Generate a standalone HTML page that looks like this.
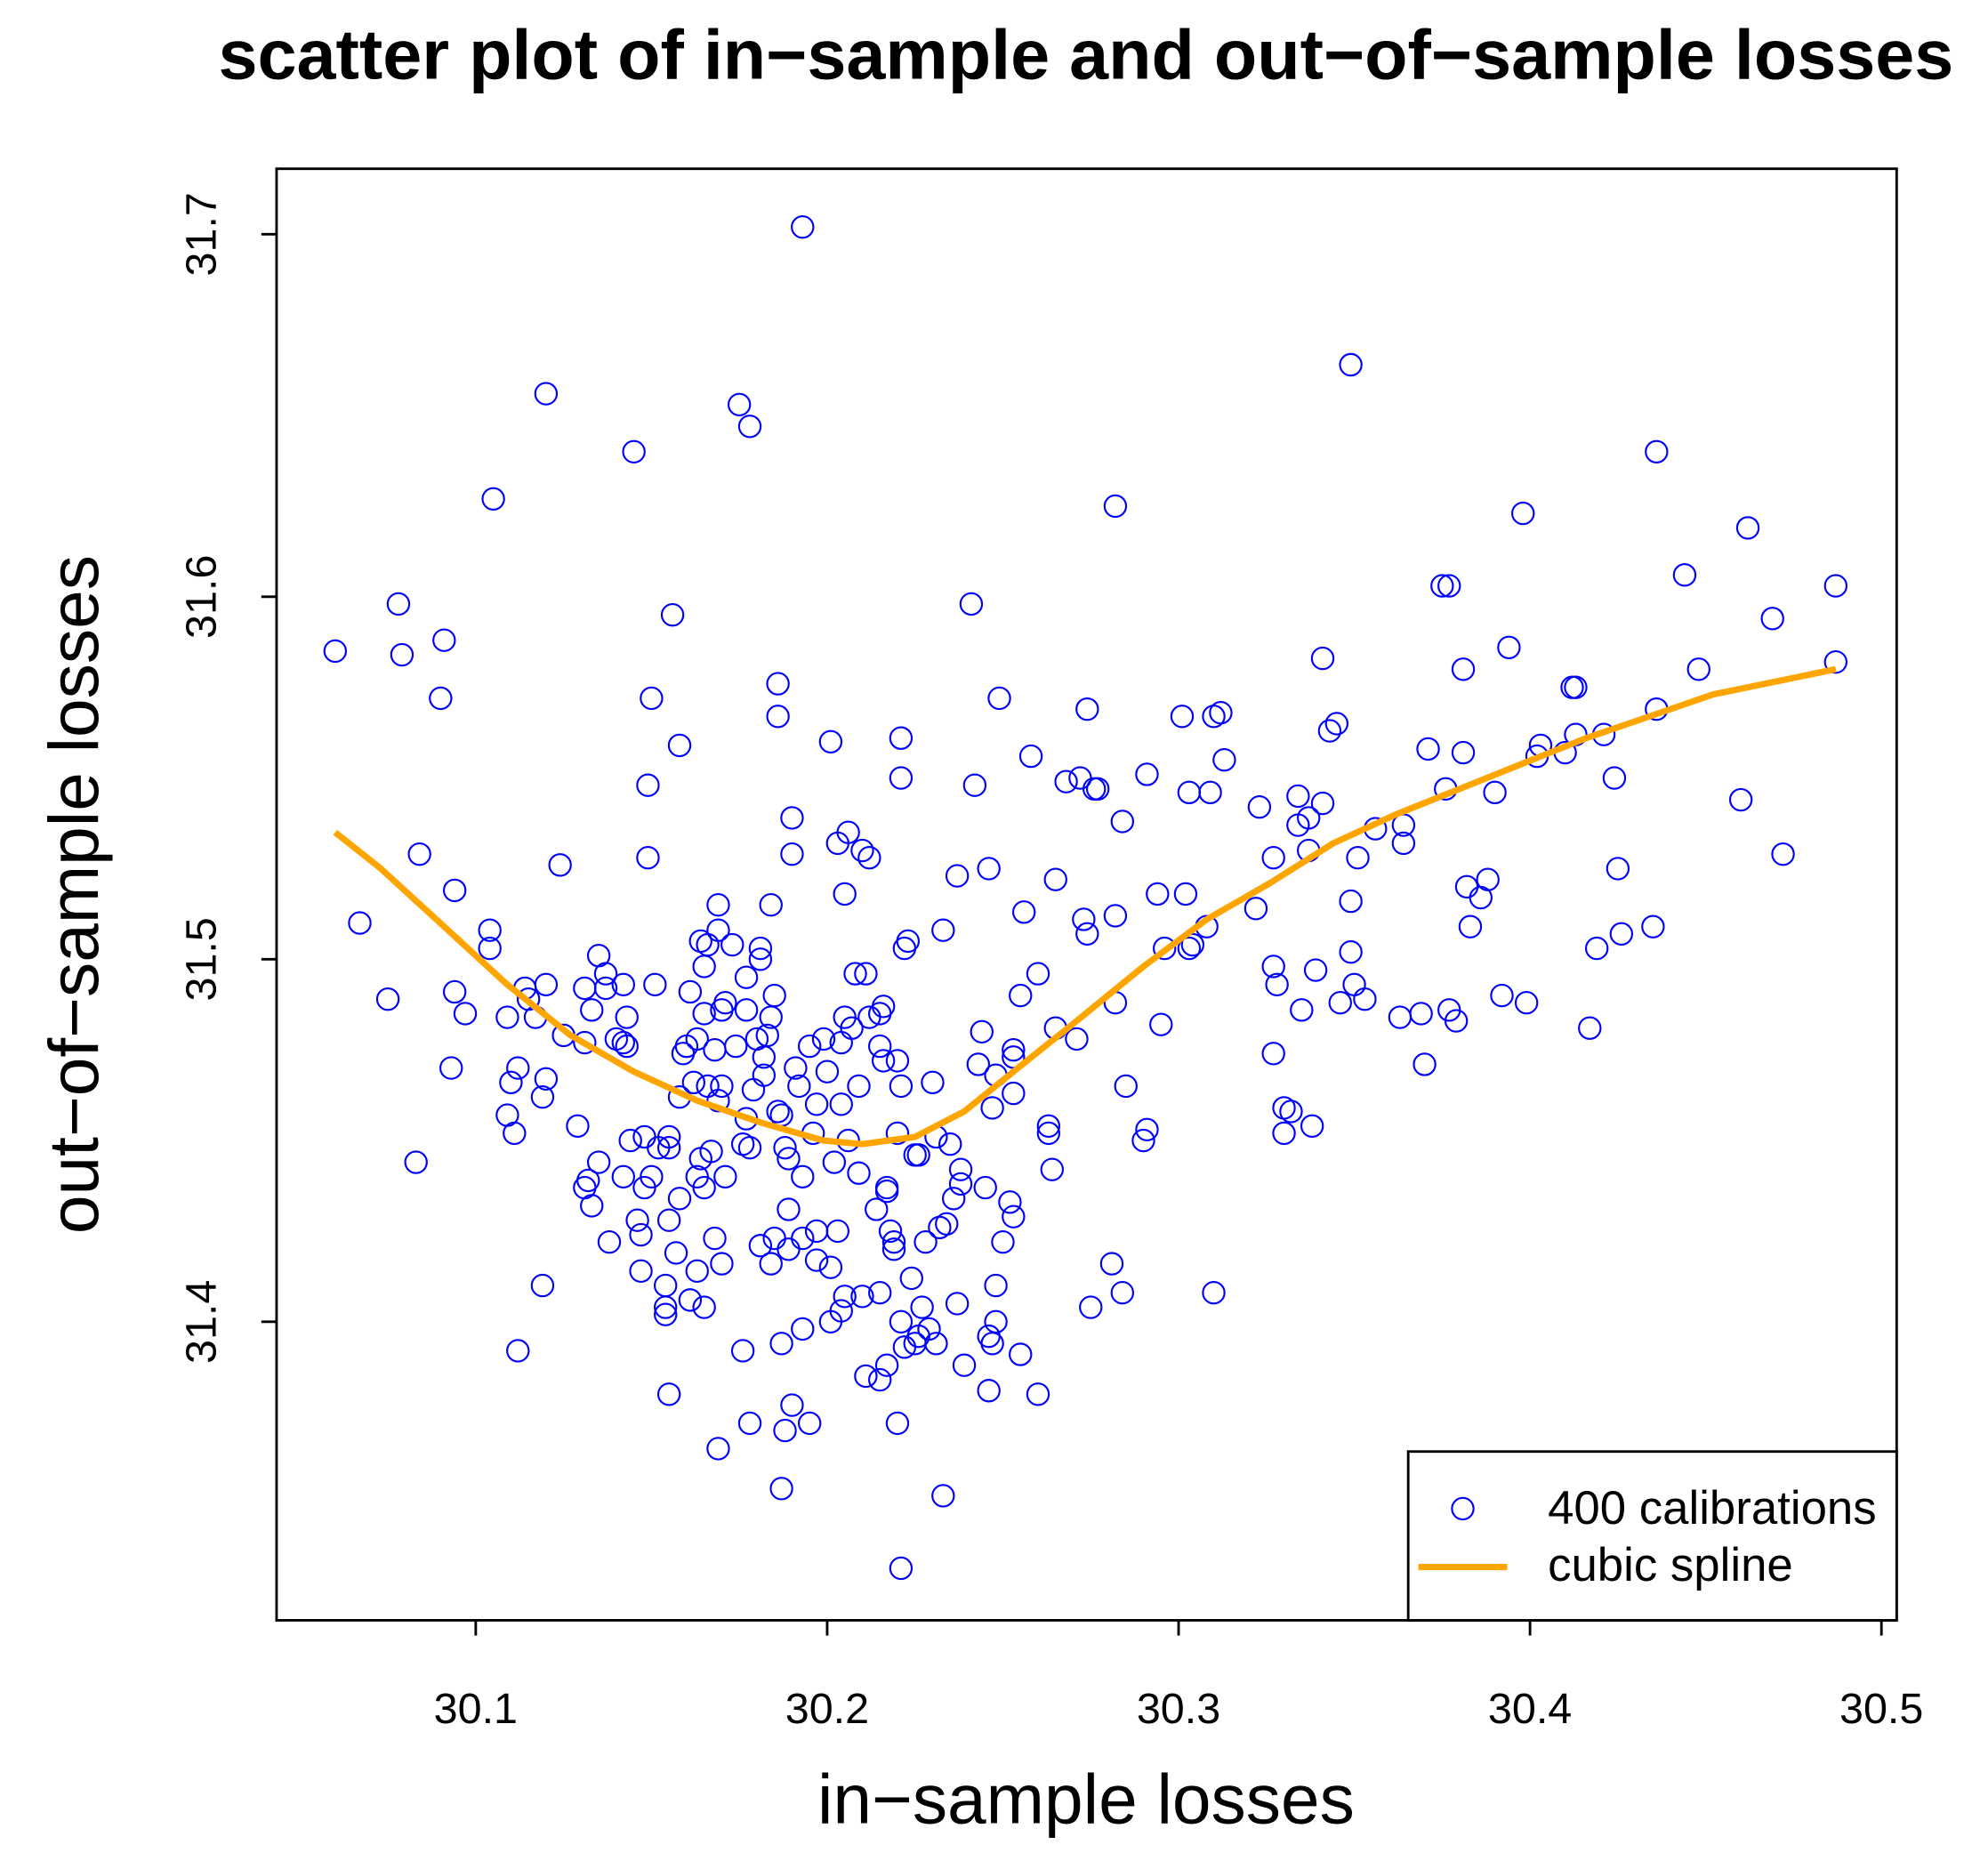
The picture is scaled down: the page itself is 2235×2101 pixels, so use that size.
<!DOCTYPE html>
<html><head><meta charset="utf-8"><style>
html,body{margin:0;padding:0;background:#fff}
svg{display:block}
text{font-family:"Liberation Sans",Arial,sans-serif;fill:#000}
</style></head><body>
<svg id="chart" width="2235" height="2101" viewBox="0 0 1567 1473" preserveAspectRatio="none" xmlns="http://www.w3.org/2000/svg">
<rect width="1567" height="1473" fill="#fff"/>
<text x="856" y="62" text-anchor="middle" font-size="55.5" font-weight="bold">scatter plot of in−sample and out−of−sample losses</text>
<text x="856" y="1437" text-anchor="middle" font-size="55">in−sample losses</text>
<text transform="translate(77,705) rotate(-90)" text-anchor="middle" font-size="55">out−of−sample losses</text>
<g id="axes"></g>
<g id="points"></g>
<g id="spline"></g>
<rect x="218" y="133" width="1277" height="1144" fill="none" stroke="#000" stroke-width="2"/>
<g>
<rect x="1110" y="1144" width="385" height="133" fill="#fff" stroke="#000" stroke-width="2"/>
<circle cx="1153" cy="1189" r="8.5" fill="none" stroke="#0000ff" stroke-width="1.5"/>
<text x="1220" y="1201" font-size="37">400 calibrations</text>
<line x1="1118" y1="1235" x2="1188" y2="1235" stroke="#FFA500" stroke-width="5"/>
<text x="1220" y="1246" font-size="37">cubic spline</text>
</g>
</svg>
<script>
const xTicks=[30.1,30.2,30.3,30.4,30.5];
const yTicks=[31.4,31.5,31.6,31.7];
const xTickLabels=["30.1","30.2","30.3","30.4","30.5"];
const yTickLabels=["31.4","31.5","31.6","31.7"];
const inSample=[30.060,30.067,30.075,30.078,30.079,30.091,30.090,30.084,30.083,30.094,30.094,30.097,30.093,30.105,30.104,30.104,30.109,30.110,30.112,30.109,30.111,30.112,30.114,30.115,30.117,30.120,30.120,30.120,30.119,30.119,30.124,30.125,30.129,30.131,30.131,30.131,30.132,30.133,30.135,30.133,30.135,30.137,30.137,30.138,30.140,30.142,30.142,30.143,30.142,30.143,30.145,30.144,30.146,30.147,30.147,30.148,30.148,30.149,30.149,30.150,30.151,30.152,30.150,30.154,30.154,30.154,30.155,30.155,30.155,30.155,30.156,30.157,30.158,30.158,30.159,30.158,30.161,30.161,30.162,30.160,30.163,30.163,30.163,30.164,30.165,30.164,30.165,30.165,30.165,30.166,30.166,30.167,30.168,30.168,30.169,30.169,30.169,30.169,30.170,30.170,30.171,30.170,30.171,30.173,30.174,30.175,30.176,30.177,30.177,30.178,30.176,30.178,30.178,30.177,30.179,30.180,30.181,30.181,30.181,30.182,30.182,30.183,30.184,30.185,30.184,30.186,30.186,30.184,30.185,30.186,30.187,30.187,30.187,30.188,30.188,30.189,30.189,30.189,30.190,30.190,30.190,30.191,30.192,30.193,30.193,30.193,30.193,30.195,30.195,30.196,30.197,30.197,30.197,30.199,30.200,30.201,30.201,30.201,30.202,30.203,30.203,30.204,30.204,30.204,30.205,30.205,30.205,30.206,30.206,30.207,30.208,30.209,30.209,30.210,30.210,30.211,30.211,30.212,30.212,30.214,30.215,30.215,30.215,30.215,30.216,30.216,30.217,30.217,30.217,30.218,30.219,30.219,30.220,30.220,30.220,30.221,30.221,30.221,30.221,30.221,30.222,30.222,30.223,30.224,30.225,30.226,30.225,30.226,30.227,30.228,30.229,30.230,30.231,30.231,30.232,30.233,30.233,30.234,30.235,30.236,30.237,30.237,30.238,30.238,30.239,30.241,30.242,30.243,30.244,30.245,30.246,30.246,30.246,30.247,30.247,30.248,30.248,30.248,30.249,30.250,30.252,30.253,30.253,30.253,30.253,30.255,30.255,30.256,30.258,30.260,30.260,30.263,30.263,30.264,30.265,30.265,30.268,30.271,30.272,30.273,30.274,30.274,30.275,30.276,30.277,30.281,30.282,30.282,30.282,30.284,30.284,30.285,30.290,30.291,30.291,30.294,30.295,30.296,30.301,30.302,30.303,30.303,30.304,30.308,30.309,30.310,30.310,30.312,30.313,30.323,30.322,30.327,30.327,30.327,30.328,30.330,30.330,30.332,30.334,30.334,30.335,30.337,30.337,30.338,30.339,30.341,30.341,30.343,30.345,30.346,30.349,30.349,30.349,30.350,30.351,30.353,30.356,30.363,30.364,30.364,30.369,30.370,30.371,30.375,30.376,30.377,30.377,30.379,30.381,30.381,30.382,30.383,30.386,30.388,30.390,30.392,30.394,30.398,30.399,30.402,30.403,30.410,30.412,30.413,30.413,30.417,30.419,30.421,30.424,30.425,30.426,30.435,30.436,30.436,30.444,30.448,30.460,30.462,30.469,30.472,30.487,30.487];
const outSample=[31.585,31.510,31.489,31.598,31.584,31.588,31.572,31.529,31.444,31.519,31.491,31.485,31.470,31.627,31.508,31.503,31.484,31.466,31.470,31.457,31.452,31.392,31.492,31.489,31.484,31.656,31.493,31.467,31.462,31.410,31.526,31.479,31.454,31.492,31.477,31.437,31.439,31.486,31.501,31.432,31.444,31.496,31.492,31.422,31.478,31.493,31.440,31.476,31.477,31.484,31.640,31.450,31.428,31.424,31.414,31.437,31.451,31.548,31.528,31.572,31.493,31.448,31.440,31.410,31.402,31.404,31.380,31.451,31.448,31.428,31.595,31.419,31.559,31.434,31.474,31.462,31.406,31.491,31.466,31.476,31.440,31.478,31.414,31.505,31.485,31.445,31.404,31.437,31.498,31.504,31.465,31.447,31.423,31.475,31.461,31.365,31.515,31.508,31.465,31.486,31.488,31.416,31.440,31.504,31.476,31.653,31.392,31.486,31.495,31.647,31.449,31.372,31.448,31.456,31.464,31.478,31.503,31.500,31.421,31.473,31.468,31.479,31.515,31.490,31.484,31.576,31.567,31.416,31.423,31.458,31.457,31.354,31.394,31.370,31.448,31.431,31.445,31.420,31.377,31.539,31.529,31.470,31.465,31.702,31.440,31.423,31.398,31.476,31.372,31.452,31.460,31.425,31.417,31.478,31.469,31.560,31.415,31.400,31.444,31.425,31.532,31.403,31.477,31.460,31.518,31.484,31.407,31.535,31.450,31.481,31.496,31.441,31.465,31.530,31.407,31.385,31.496,31.528,31.484,31.431,31.485,31.476,31.384,31.408,31.472,31.487,31.436,31.437,31.388,31.425,31.420,31.422,31.372,31.452,31.472,31.465,31.561,31.550,31.400,31.332,31.393,31.503,31.505,31.412,31.446,31.446,31.394,31.396,31.404,31.422,31.398,31.466,31.394,31.451,31.426,31.352,31.508,31.427,31.449,31.434,31.405,31.523,31.442,31.438,31.388,31.598,31.548,31.471,31.480,31.437,31.381,31.396,31.525,31.459,31.394,31.468,31.410,31.400,31.572,31.422,31.433,31.429,31.463,31.475,31.473,31.391,31.490,31.513,31.556,31.496,31.380,31.454,31.452,31.442,31.481,31.522,31.549,31.478,31.550,31.511,31.507,31.569,31.404,31.547,31.547,31.416,31.512,31.625,31.488,31.538,31.408,31.465,31.450,31.453,31.551,31.518,31.482,31.503,31.567,31.518,31.546,31.503,31.504,31.509,31.546,31.567,31.408,31.568,31.555,31.542,31.514,31.474,31.528,31.498,31.493,31.459,31.452,31.458,31.537,31.545,31.486,31.530,31.539,31.454,31.497,31.583,31.543,31.563,31.565,31.488,31.664,31.516,31.502,31.493,31.528,31.489,31.536,31.484,31.532,31.537,31.485,31.471,31.558,31.603,31.547,31.603,31.486,31.483,31.580,31.557,31.520,31.509,31.517,31.522,31.546,31.490,31.586,31.623,31.488,31.556,31.559,31.557,31.575,31.575,31.562,31.481,31.503,31.562,31.550,31.525,31.507,31.509,31.569,31.640,31.606,31.580,31.544,31.619,31.594,31.529,31.582,31.603];
const splineX=[30.060,30.073,30.091,30.109,30.127,30.145,30.163,30.181,30.199,30.210,30.225,30.239,30.253,30.271,30.290,30.308,30.326,30.344,30.362,30.380,30.398,30.416,30.434,30.452,30.487];
const splineY=[31.535,31.525,31.509,31.493,31.479,31.469,31.461,31.455,31.450,31.449,31.451,31.458,31.469,31.483,31.498,31.511,31.521,31.532,31.540,31.547,31.554,31.561,31.567,31.573,31.580];

const NS="http://www.w3.org/2000/svg";
function sx(v){return 375+(v-30.1)*2770;}
function sy(v){return 756-(v-31.5)*2857;}
function mk(tag,attrs,parent){const e=document.createElementNS(NS,tag);for(const k in attrs)e.setAttribute(k,attrs[k]);parent.appendChild(e);return e;}

const axes=document.getElementById('axes');
xTicks.forEach((t,i)=>{
  const l=mk('line',{x1:sx(t),x2:sx(t),y1:1277,y2:1289,stroke:'#000','stroke-width':2},axes);
  
  
  const tx=mk('text',{x:sx(t),y:1358,'text-anchor':'middle','font-size':34},axes);
  tx.textContent=xTickLabels[i];
  
  
});
yTicks.forEach((t,i)=>{
  const l=mk('line',{x1:206,x2:218,y1:sy(t),y2:sy(t),stroke:'#000','stroke-width':2},axes);
  
  
  const tx=mk('text',{transform:`translate(170,${sy(t)}) rotate(-90)`,'text-anchor':'middle','font-size':34},axes);
  tx.textContent=yTickLabels[i];
  
  
});

const pts=document.getElementById('points');
inSample.forEach((x,i)=>{
  const c=mk('circle',{cx:sx(x),cy:sy(outSample[i]),r:8.5,fill:'none',stroke:'#0000ff','stroke-width':1.5},pts);
  
  
});

const sp=document.getElementById('spline');
const d=splineX.map((x,i)=>(i?'L':'M')+sx(x).toFixed(1)+','+sy(splineY[i]).toFixed(1)).join(' ');
const p=mk('path',{d:d,fill:'none',stroke:'#FFA500','stroke-width':5,'stroke-linejoin':'round','stroke-linecap':'butt'},sp);


</script>
</body></html>
